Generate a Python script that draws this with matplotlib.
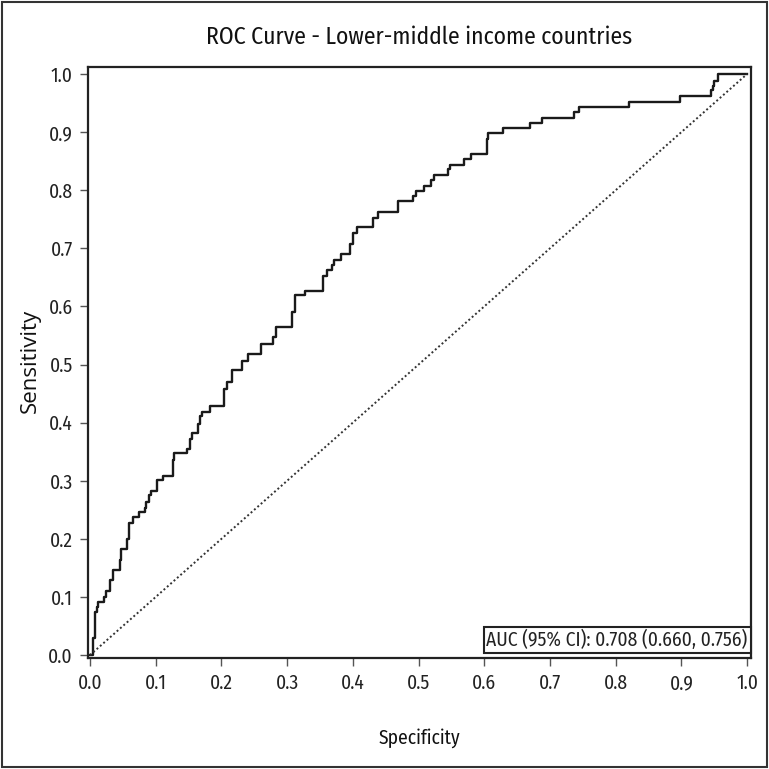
import matplotlib
matplotlib.use("Agg")
import matplotlib.pyplot as plt
from matplotlib import font_manager
from matplotlib.patches import Rectangle

# ROC operating points (1 - specificity, sensitivity)
fpr = [0.000, 0.004, 0.008, 0.011, 0.013, 0.021, 0.025, 0.031, 0.035, 0.045,
       0.048, 0.056, 0.059, 0.066, 0.074, 0.084, 0.086, 0.090, 0.093, 0.102,
       0.111, 0.126, 0.128, 0.148, 0.153, 0.156, 0.165, 0.168, 0.171, 0.182,
       0.204, 0.208, 0.216, 0.231, 0.241, 0.260, 0.278, 0.283, 0.307, 0.312,
       0.327, 0.354, 0.360, 0.368, 0.371, 0.382, 0.395, 0.400, 0.407, 0.431,
       0.439, 0.469, 0.492, 0.496, 0.509, 0.519, 0.523, 0.545, 0.548, 0.569,
       0.580, 0.604, 0.606, 0.629, 0.670, 0.688, 0.736, 0.744, 0.820, 0.898,
       0.945, 0.948, 0.950, 0.956, 1.000]
tpr = [0.000, 0.029, 0.074, 0.083, 0.092, 0.100, 0.110, 0.129, 0.146, 0.163,
       0.183, 0.200, 0.227, 0.237, 0.246, 0.254, 0.263, 0.275, 0.283, 0.301,
       0.309, 0.335, 0.347, 0.355, 0.372, 0.382, 0.398, 0.411, 0.418, 0.428,
       0.458, 0.470, 0.490, 0.507, 0.518, 0.536, 0.547, 0.564, 0.590, 0.619,
       0.627, 0.653, 0.663, 0.672, 0.680, 0.690, 0.707, 0.726, 0.736, 0.753,
       0.762, 0.781, 0.790, 0.799, 0.808, 0.818, 0.826, 0.836, 0.844, 0.853,
       0.862, 0.888, 0.899, 0.907, 0.916, 0.925, 0.935, 0.943, 0.952, 0.962,
       0.972, 0.979, 0.988, 1.000, 1.000]

tick_values = [0.0, 0.1, 0.2, 0.3, 0.4, 0.5, 0.6, 0.7, 0.8, 0.9, 1.0]
auc_label = "AUC (95% CI): 0.708 (0.660, 0.756)"
title = "ROC Curve - Lower-middle income countries"


def pick_font(candidates):
    names = {f.name for f in font_manager.fontManager.ttflist}
    for name, weight in candidates:
        if name in names:
            return {"family": [name, "DejaVu Sans"], "weight": weight}
    return {"family": ["DejaVu Sans"], "weight": "normal"}


narrow = pick_font([("Fira Sans Condensed", "normal"),
                    ("Roboto Condensed", "normal"),
                    ("Open Sans Condensed", "light"),
                    ("Liberation Sans", "normal")])
regular = pick_font([("Selawik", "normal"), ("Open Sans", "normal"),
                     ("Liberation Sans", "normal")])

fig = plt.figure(figsize=(7.69, 7.69), dpi=100)
fig.patch.set_facecolor("white")
ax = fig.add_axes([0.1144, 0.1443, 0.8622, 0.7685])

ax.plot(fpr, tpr, drawstyle="steps-post", color="#1a1a1a", lw=1.7)
ax.plot([0, 1], [0, 1], color="#333333", lw=1.4, linestyle=(0, (1, 1.3)))

ax.set_xlim(-0.003, 1.006)
ax.set_ylim(-0.005, 1.012)
ax.set_xticks(tick_values)
ax.set_yticks(tick_values)
ax.set_xticklabels([f"{v:.1f}" for v in tick_values], fontsize=14,
                   color="#222222", **narrow)
ax.set_yticklabels([f"{v:.1f}" for v in tick_values], fontsize=14,
                   color="#222222", **narrow)
ax.tick_params(direction="out", length=6, width=1.0, color="#555555", pad=5)

for s in ax.spines.values():
    s.set_linewidth(1.6)
    s.set_color("#222222")

ax.text(0.995, 0.0135, auc_label, transform=ax.transAxes, ha="right", va="bottom",
        fontsize=14, color="#222222",
        bbox=dict(boxstyle="square,pad=0.15", fc="white", ec="#222222", lw=1.5),
        **narrow)

fig.text(0.5455, 0.951, title, ha="center", va="center", fontsize=17,
         color="#111111", **narrow)
fig.text(0.5455, 0.040, "Specificity", ha="center", va="center", fontsize=14,
         color="#111111", **narrow)
fig.text(0.039, 0.530, "Sensitivity", ha="center", va="center", rotation=90,
         fontsize=16, color="#111111", **regular)

fig.add_artist(Rectangle((0.003, 0.003), 0.994, 0.994, transform=fig.transFigure,
                         fill=False, ec="#333333", lw=1.5))

fig.savefig("out.png", dpi=100)
